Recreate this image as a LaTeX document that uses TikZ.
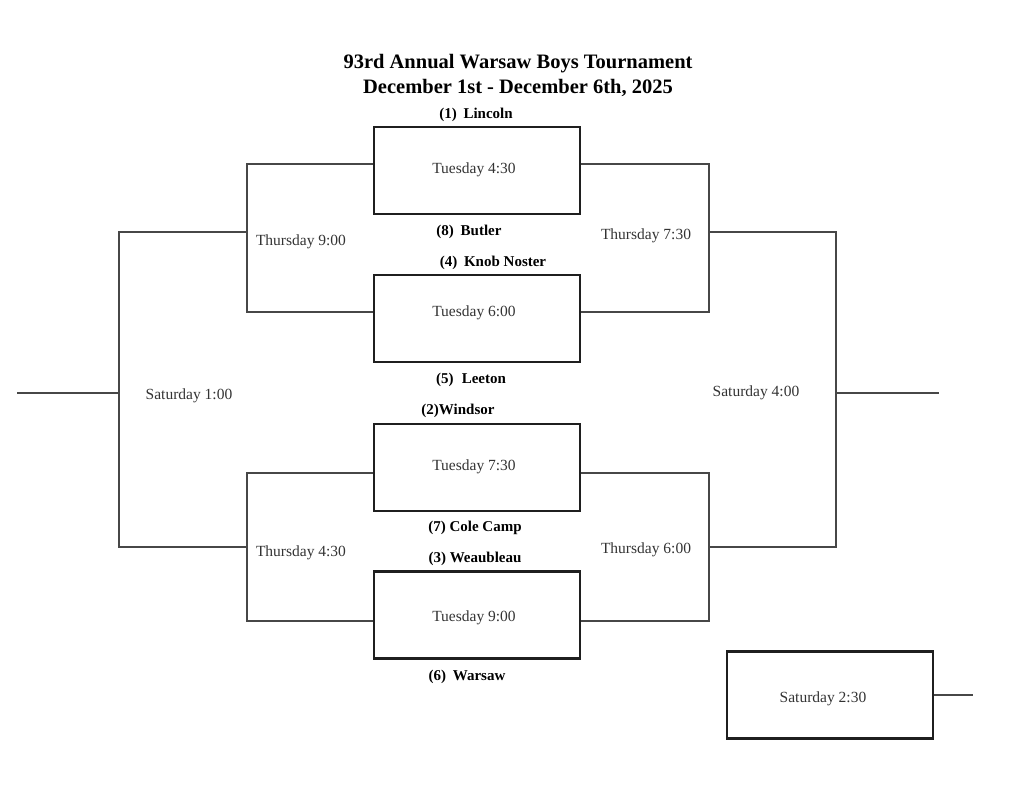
\documentclass[tikz,border=0pt]{standalone}
\usepackage{fontspec}
\setmainfont{Liberation Serif}
\begin{document}
\begin{tikzpicture}[x=1pt,y=-1pt,
  game/.style={draw=black!88,line width=2.2pt,minimum width=206pt,minimum height=87pt,inner sep=0pt},
  team/.style={font=\bfseries\fontsize{15}{18}\selectfont,inner sep=0pt},
  slot/.style={font=\fontsize{15.5}{18}\selectfont,text=black!80,inner sep=0pt},
  wire/.style={draw=black!72,line width=1.2pt},
  title/.style={font=\bfseries\fontsize{20.5}{25}\selectfont,align=center,inner sep=0pt}]
\useasboundingbox (0,0) rectangle (1024,791);
\node[title] (t) at (518,75) {93rd Annual Warsaw Boys Tournament\\December 1st - December 6th, 2025};
% game boxes
\node[game] (g1) at (477,170.5) {};
\node[game] (g2) at (477,318.5) {};
\node[game] (g3) at (477,467.5) {};
\node[game] (g4) at (477,615) {};
\node[game] (g5) at (830,695) {};
% game times
\node[slot] (tm1) at (474,170) {Tuesday 4:30};
\node[slot] (tm2) at (474,313) {Tuesday 6:00};
\node[slot] (tm3) at (474,467) {Tuesday 7:30};
\node[slot] (tm4) at (474,618) {Tuesday 9:00};
\node[slot] (tm5) at (823,699) {Saturday 2:30};
% team labels
\node[team] (n1) at (476,115) {(1)\hspace{0.45em}Lincoln};
\node[team] (n8) at (469,232) {(8)\hspace{0.45em}Butler};
\node[team] (n4) at (493,263) {(4)\hspace{0.45em}Knob Noster};
\node[team] (n5) at (471,380) {(5)\hspace{0.55em}Leeton};
\node[team] (n2) at (458,411) {(2)Windsor};
\node[team] (n7) at (475,528) {(7) Cole Camp};
\node[team] (n3) at (475,559) {(3) Weaubleau};
\node[team] (n6) at (467,677) {(6)\hspace{0.45em}Warsaw};
% slot labels
\node[slot] (s1) at (301,242) {Thursday 9:00};
\node[slot] (s2) at (646,236) {Thursday 7:30};
\node[slot] (s3) at (301,553) {Thursday 4:30};
\node[slot] (s4) at (646,550) {Thursday 6:00};
\node[slot] (s5) at (189,396) {Saturday 1:00};
\node[slot] (s6) at (756,393) {Saturday 4:00};
% bracket coordinates
\coordinate (la1) at (247,164);
\coordinate (la2) at (247,312);
\coordinate (la3) at (247,473);
\coordinate (la4) at (247,621);
\coordinate (ra1) at (709,164);
\coordinate (ra2) at (709,312);
\coordinate (ra3) at (709,473);
\coordinate (ra4) at (709,621);
\coordinate (lb1) at (119,232);
\coordinate (lb2) at (119,547);
\coordinate (rb1) at (836,232);
\coordinate (rb2) at (836,547);
\coordinate (lc) at (119,393);
\coordinate (rc) at (836,393);
\coordinate (le) at (17,393);
\coordinate (re) at (939,393);
\coordinate (ce) at (973,695);
% connectors
\draw[wire] (g1.west |- la1) -- (la1) -- (la2) -- (g2.west |- la2);
\draw[wire] (g3.west |- la3) -- (la3) -- (la4) -- (g4.west |- la4);
\draw[wire] (g1.east |- ra1) -- (ra1) -- (ra2) -- (g2.east |- ra2);
\draw[wire] (g3.east |- ra3) -- (ra3) -- (ra4) -- (g4.east |- ra4);
\draw[wire] (la1 |- lb1) -- (lb1) -- (lb2) -- (la3 |- lb2);
\draw[wire] (ra1 |- rb1) -- (rb1) -- (rb2) -- (ra3 |- rb2);
\draw[wire] (le) -- (lc);
\draw[wire] (rc) -- (re);
\draw[wire] (g5.east) -- (ce);
\end{tikzpicture}
\end{document}
